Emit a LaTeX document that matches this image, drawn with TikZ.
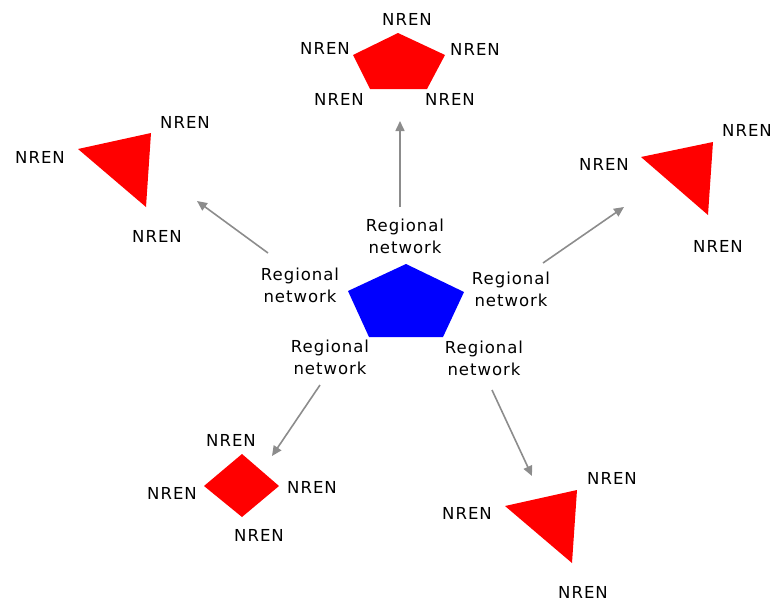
\documentclass[tikz,border=0pt]{standalone}
\usepackage{fontspec}
\setmainfont[LetterSpace=6]{DejaVu Sans}
\usetikzlibrary{arrows.meta}
\definecolor{arrowgray}{RGB}{140,140,140}
\definecolor{nred}{RGB}{255,0,0}
\definecolor{nblue}{RGB}{0,0,255}
\begin{document}
\begin{tikzpicture}[x=1pt,y=-1pt,
  lbl/.style={font=\fontsize{16.5}{22}\selectfont, inner sep=0pt, align=center, text=black},
  arr/.style={draw=arrowgray, line width=1.6pt, -{Triangle[length=10pt,width=9pt]}}]
\useasboundingbox (0,0) rectangle (772,605);

% central regional network
\fill[nblue] (406,264) -- (464,292) -- (443,337) -- (369,337) -- (348,291) -- cycle;
\node[lbl] (rt) at (405,236) {Regional\\network};
\node[lbl] (rl) at (300,285) {Regional\\network};
\node[lbl] (rr) at (511,289) {Regional\\network};
\node[lbl] (rbl) at (330,357) {Regional\\network};
\node[lbl] (rbr) at (484,358) {Regional\\network};

% top pentagon
\fill[nred] (398,33) -- (445,55) -- (427,89) -- (370,89) -- (353,55) -- cycle;
\node[lbl] (p1) at (407,19) {NREN};
\node[lbl] (p2) at (325,48) {NREN};
\node[lbl] (p3) at (475,49) {NREN};
\node[lbl] (p4) at (339,99) {NREN};
\node[lbl] (p5) at (450,99) {NREN};

% left triangle
\fill[nred] (78,149) -- (151,133) -- (146,207) -- cycle;
\node[lbl] (a1) at (40,157) {NREN};
\node[lbl] (a2) at (185,122) {NREN};
\node[lbl] (a3) at (157,236) {NREN};

% right triangle
\fill[nred] (641,157) -- (713,142) -- (708,215) -- cycle;
\node[lbl] (b1) at (604,164) {NREN};
\node[lbl] (b2) at (747,130) {NREN};
\node[lbl] (b3) at (718,246) {NREN};

% diamond
\fill[nred] (242,454) -- (279,486) -- (242,517) -- (204,486) -- cycle;
\node[lbl] (d1) at (231,440) {NREN};
\node[lbl] (d2) at (172,493) {NREN};
\node[lbl] (d3) at (312,487) {NREN};
\node[lbl] (d4) at (259,535) {NREN};

% bottom triangle
\fill[nred] (505,506) -- (577,490) -- (572,563) -- cycle;
\node[lbl] (c1) at (612,478) {NREN};
\node[lbl] (c2) at (467,513) {NREN};
\node[lbl] (c3) at (583,592) {NREN};

% arrows
\coordinate (s1) at (400,207); \coordinate (t1) at (400,121);
\coordinate (s2) at (268,253); \coordinate (t2) at (197,201);
\coordinate (s3) at (543,263); \coordinate (t3) at (624,207);
\coordinate (s4) at (320,385); \coordinate (t4) at (272,456);
\coordinate (s5) at (492,390); \coordinate (t5) at (532,476);
\draw[arr] (s1) -- (t1);
\draw[arr] (s2) -- (t2);
\draw[arr] (s3) -- (t3);
\draw[arr] (s4) -- (t4);
\draw[arr] (s5) -- (t5);
\end{tikzpicture}
\end{document}
